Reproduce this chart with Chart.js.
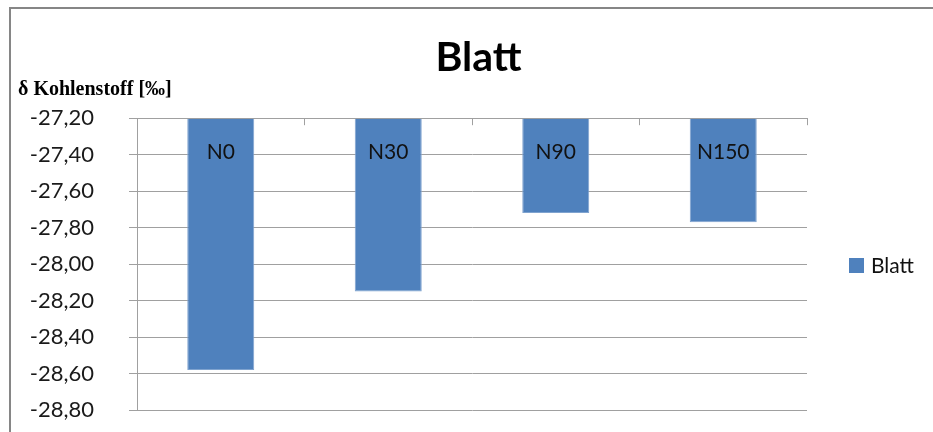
<!DOCTYPE html>
<html>
<head>
<meta charset="utf-8">
<script src="https://cdn.jsdelivr.net/npm/chart.js@4.4.1/dist/chart.umd.min.js"></script>
<style>
  html, body { margin: 0; padding: 0; background: #fff; }
  #wrap { width: 933px; height: 432px; position: relative; }
</style>
</head>
<body>
<div id="wrap"><canvas id="blatt-chart"></canvas></div>
<script>
  // data
  const categories = ['N0', 'N30', 'N90', 'N150'];
  const blattValues = [-28.58, -28.15, -27.72, -27.77];
  const yTickValues = [-27.2, -27.4, -27.6, -27.8, -28.0, -28.2, -28.4, -28.6, -28.8];
  const chartTitle = 'Blatt';
  const yAxisTitle = 'δ Kohlenstoff [‰]';
  const seriesName = 'Blatt';

  const barBlue = '#4f81bd';
  const gridGray = '#a0a0a0';
  const yMax = Math.max.apply(null, yTickValues);
  const yMin = Math.min.apply(null, yTickValues);

  // outer frame + white background
  const framePlugin = {
    id: 'frame',
    beforeDraw(chart) {
      const c = chart.ctx;
      c.save();
      c.fillStyle = '#fff';
      c.fillRect(0, 0, chart.width, chart.height);
      c.strokeStyle = '#868686';
      c.lineWidth = 2;
      c.beginPath();
      c.moveTo(10, chart.height);
      c.lineTo(10, 8);
      c.lineTo(chart.width, 8);
      c.stroke();
      c.restore();
    }
  };

  // category names sit inside the bars, near the top (like the excel original)
  const extrasPlugin = {
    id: 'extras',
    afterDraw(chart) {
      const c = chart.ctx;
      const x = chart.scales.x;
      const area = chart.chartArea;
      c.save();
      c.fillStyle = '#111';
      c.font = '21px Lato';
      c.textAlign = 'center';
      c.textBaseline = 'middle';
      categories.forEach(function (label, i) {
        c.fillText(label, x.getPixelForValue(i), area.top + 34);
      });

      // axis title, horizontal above the y axis
      c.font = 'bold 20px "Liberation Serif"';
      c.textAlign = 'left';
      c.fillStyle = '#000';
      c.fillText(yAxisTitle, 18, 90);

      // legend on the right
      const ds = chart.data.datasets[0];
      c.fillStyle = ds.backgroundColor;
      c.fillRect(area.right + 42, 258, 15, 15);
      c.fillStyle = '#111';
      c.font = '21px Lato';
      c.fillText(ds.label, area.right + 64, 266);
      c.restore();
    }
  };

  new Chart(document.getElementById('blatt-chart'), {
    type: 'bar',
    data: {
      labels: categories,
      datasets: [{
        label: seriesName,
        data: blattValues,
        backgroundColor: barBlue,
        borderColor: '#7fa3cf',
        borderWidth: 1,
        base: yMax,
        categoryPercentage: 1,
        barPercentage: 0.4
      }]
    },
    options: {
      responsive: true,
      maintainAspectRatio: false,
      animation: false,
      layout: {
        padding: { left: 24, right: 0, top: 0, bottom: 22 }
      },
      scales: {
        x: {
          position: 'top',
          offset: true,
          ticks: { display: false },
          grid: {
            offset: true,
            drawOnChartArea: false,
            tickLength: -7,
            color: gridGray
          },
          border: { display: true, color: gridGray },
          afterFit(scale) { scale.height = 0; }
        },
        y: {
          min: yMin,
          max: yMax,
          afterBuildTicks(scale) {
            scale.ticks = yTickValues.map(function (v) { return { value: v }; });
          },
          afterFit(scale) {
            scale.width = 113;
            scale.paddingTop = 0;
            scale.paddingBottom = 0;
          },
          ticks: {
            padding: 35,
            color: '#1a1a1a',
            font: { family: 'Lato', size: 22 },
            callback: function (v) { return Number(v).toFixed(2).replace('.', ','); }
          },
          grid: { color: gridGray, tickLength: 8 },
          border: { display: true, color: gridGray }
        },
        // empty strip on the right where the legend goes
        legendSpace: {
          type: 'linear',
          position: 'right',
          display: true,
          ticks: { display: false },
          grid: { display: false },
          border: { display: false },
          afterFit(scale) {
            scale.width = 126;
            scale.paddingTop = 0;
            scale.paddingBottom = 0;
          }
        }
      },
      plugins: {
        legend: { display: false },
        tooltip: { enabled: false },
        title: {
          display: true,
          text: chartTitle,
          color: '#000',
          font: { family: 'Lato', size: 41, weight: 'bold' },
          padding: { top: 33, bottom: 36 }
        }
      }
    },
    plugins: [framePlugin, extrasPlugin]
  });
</script>
</body>
</html>
